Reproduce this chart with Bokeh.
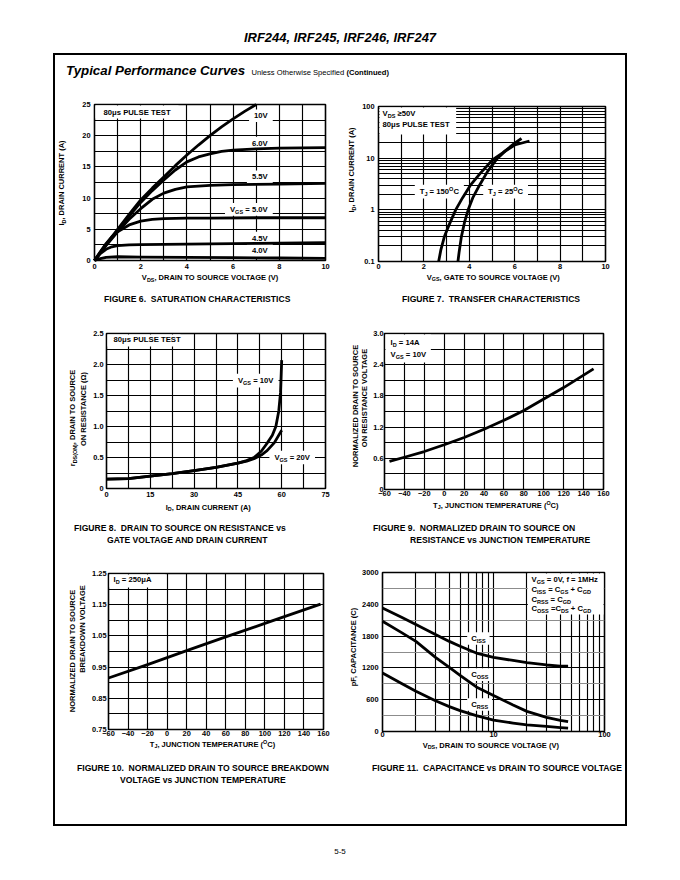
import math
from bokeh.plotting import figure
from bokeh.models import Div, Spacer, Label, BoxAnnotation, FixedTicker
from bokeh.layouts import column, row
from bokeh.embed import file_html
from bokeh.resources import INLINE

FONT = "Liberation Sans"

# ====================== DATA ======================
# Figure 6 - saturation characteristics (VDS [V] -> ID [A]) per VGS
f6_vds_10v = [0, 0.5, 1, 1.5, 2, 2.5, 3, 3.5, 4, 4.5, 5, 5.5, 6, 6.5, 7]
f6_id_10v = [0, 2.6, 5.0, 7.4, 9.7, 11.6, 13.4, 15.2, 16.9, 18.5, 20.0, 21.4, 22.7, 23.9, 25.0]
f6_vds_60v = [0, 0.5, 1, 1.5, 2, 2.5, 3, 3.5, 4, 4.5, 5, 5.5, 6, 7, 8, 9, 10]
f6_id_60v = [0, 2.5, 4.8, 7.1, 9.3, 11.2, 12.9, 14.5, 15.8, 16.6, 17.1, 17.5, 17.7, 17.9, 18.0, 18.05, 18.1]
f6_vds_55v = [0, 0.5, 1, 1.5, 2, 2.5, 3, 3.5, 4, 5, 6, 8, 10]
f6_id_55v = [0, 2.4, 4.6, 6.6, 8.3, 9.8, 10.8, 11.4, 11.8, 12.05, 12.15, 12.25, 12.35]
f6_vds_50v = [0, 0.25, 0.5, 0.75, 1, 1.5, 2, 2.5, 3, 4, 5, 7, 10]
f6_id_50v = [0, 1.4, 2.7, 3.8, 4.6, 5.7, 6.3, 6.6, 6.7, 6.8, 6.8, 6.85, 6.85]
f6_vds_45v = [0, 0.25, 0.5, 0.75, 1, 1.5, 2, 3, 5, 7, 10]
f6_id_45v = [0, 1.1, 1.8, 2.2, 2.4, 2.5, 2.55, 2.6, 2.65, 2.75, 2.85]
f6_vds_40v = [0, 0.25, 0.5, 1, 2, 4, 6, 8, 10]
f6_id_40v = [0, 0.3, 0.5, 0.6, 0.55, 0.5, 0.45, 0.4, 0.35]
f6_curve_labels = ["10V", "6.0V", "5.5V", "V_{GS} = 5.0V", "4.5V", "4.0V"]
f6_xticks = [0, 2, 4, 6, 8, 10]
f6_yticks = [0, 5, 10, 15, 20, 25]
f6_xgrid = [0, 1, 2, 3, 4, 5, 6, 7, 8, 9, 10]
f6_ygrid = [0, 2.5, 5, 7.5, 10, 12.5, 15, 17.5, 20, 22.5, 25]

# Figure 7 - transfer characteristics (VGS [V] -> ID [A], log)
f7_vgs_150 = [2.65, 2.75, 2.9, 3.1, 3.4, 3.7, 4.05, 4.5, 5.05, 5.5, 6.0, 6.65]
f7_id_150 = [0.1, 0.17, 0.3, 0.5, 1.0, 1.7, 3.0, 5.2, 9.5, 13.0, 18.0, 21.5]
f7_vgs_25 = [3.5, 3.55, 3.65, 3.8, 3.95, 4.15, 4.45, 4.8, 5.2, 5.6, 6.0, 6.3]
f7_id_25 = [0.1, 0.15, 0.3, 0.6, 1.0, 1.7, 3.0, 5.5, 9.5, 14.0, 19.5, 24.0]
f7_xticks = [0, 2, 4, 6, 8, 10]
f7_yticks = [0.1, 1, 10, 100]
f7_ytick_labels = ["0.1", "1", "10", "100"]
f7_xgrid = [0, 1, 2, 3, 4, 5, 6, 7, 8, 9, 10]
f7_ygrid = [0.1, 0.2, 0.3, 0.4, 0.5, 0.6, 0.7, 0.8, 0.9, 1, 2, 3, 4, 5, 6, 7, 8, 9,
            10, 20, 30, 40, 50, 60, 70, 80, 90, 100]

# Figure 8 - on resistance vs drain current (ID [A] -> rDS(ON) [ohm])
f8_id_10v = [0, 7.5, 15, 22.5, 30, 37.5, 45, 48, 50.5, 53, 55, 56.8, 58, 59, 59.6, 60]
f8_r_10v = [0.15, 0.16, 0.2, 0.24, 0.29, 0.34, 0.41, 0.45, 0.5, 0.6, 0.73, 0.86, 1.0, 1.25, 1.55, 2.07]
f8_id_20v = [0, 7.5, 15, 22.5, 30, 37.5, 45, 48, 50.5, 53, 55, 57.5, 60]
f8_r_20v = [0.15, 0.16, 0.2, 0.24, 0.29, 0.34, 0.41, 0.44, 0.48, 0.54, 0.61, 0.74, 0.94]
f8_xticks = [0, 15, 30, 45, 60, 75]
f8_yticks = [0, 0.5, 1.0, 1.5, 2.0, 2.5]
f8_ytick_labels = ["0", "0.5", "1.0", "1.5", "2.0", "2.5"]
f8_xgrid = [0, 7.5, 15, 22.5, 30, 37.5, 45, 52.5, 60, 67.5, 75]
f8_ygrid = [0, 0.25, 0.5, 0.75, 1.0, 1.25, 1.5, 1.75, 2.0, 2.25, 2.5]

# Figure 9 - normalized on resistance vs junction temperature
f9_tj = [-55, -40, -20, 0, 20, 40, 60, 80, 100, 120, 140, 150]
f9_rn = [0.54, 0.62, 0.73, 0.86, 1.0, 1.16, 1.33, 1.52, 1.74, 1.96, 2.2, 2.32]
f9_xticks = [-60, -40, -20, 0, 20, 40, 60, 80, 100, 120, 140, 160]
f9_yticks = [0, 0.6, 1.2, 1.8, 2.4, 3.0]
f9_ytick_labels = ["0", "0.6", "1.2", "1.8", "2.4", "3.0"]
f9_ygrid = [0, 0.3, 0.6, 0.9, 1.2, 1.5, 1.8, 2.1, 2.4, 2.7, 3.0]

# Figure 10 - normalized breakdown voltage vs junction temperature
f10_tj = [-60, -20, 20, 60, 100, 157]
f10_bv = [0.915, 0.958, 1.003, 1.047, 1.09, 1.152]
f10_xticks = [-60, -40, -20, 0, 20, 40, 60, 80, 100, 120, 140, 160]
f10_yticks = [0.75, 0.85, 0.95, 1.05, 1.15, 1.25]
f10_ytick_labels = ["0.75", "0.85", "0.95", "1.05", "1.15", "1.25"]
f10_ygrid = [0.75, 0.8, 0.85, 0.9, 0.95, 1.0, 1.05, 1.1, 1.15, 1.2, 1.25]

# Figure 11 - capacitance vs VDS (log x)
f11_vds = [1, 1.5, 2, 3, 4, 5, 7, 10, 15, 20, 30, 40, 47]
f11_ciss = [2330, 2150, 2020, 1830, 1700, 1610, 1480, 1400, 1340, 1300, 1255, 1235, 1235]
f11_coss = [2080, 1860, 1700, 1400, 1210, 1060, 840, 680, 500, 380, 265, 210, 185]
f11_crss = [1105, 900, 760, 580, 470, 395, 300, 215, 160, 125, 95, 72, 62]
f11_xticks = [1, 10, 100]
f11_xtick_labels = ["0", "10", "100"]
f11_yticks = [0, 600, 1200, 1800, 2400, 3000]
f11_xgrid = [1, 2, 3, 4, 5, 6, 7, 8, 9, 10, 20, 30, 40, 50, 60, 70, 80, 90, 100]
f11_ygrid_minor = [300, 900, 1500, 2100, 2700]
f11_legend = ["V_{GS} = 0V, f = 1MHz", "C_{ISS} = C_{GS} + C_{GD}",
              "C_{RSS} = C_{GD}", "C_{OSS} =C_{DS} + C_{GD}"]

# ====================== TEXT HELPERS ======================
AW = {' ': 278, '(': 333, ')': 333, '+': 584, ',': 278, '-': 333, '.': 278, '=': 584,
      '\u2265': 549, '\u03bc': 611, '\u00b0': 400, '\u03a9': 768}
for _d in "0123456789":
    AW[_d] = 556
AW.update(dict(A=722, B=722, C=722, D=722, E=667, F=611, G=778, H=722, I=278, J=556, K=722,
               L=611, M=833, N=722, O=778, P=667, Q=778, R=722, S=667, T=611, U=722, V=667,
               W=944, X=667, Y=667, Z=611))
AW.update(dict(a=556, b=611, c=556, d=611, e=556, f=333, g=611, h=611, i=278, j=278, k=556,
               l=278, m=889, n=611, o=611, p=611, q=611, r=389, s=556, t=333, u=611, v=556,
               w=778, x=556, y=556, z=500))
SUBK = 0.72


def text_w(s, size):
    return sum(AW.get(c, 600) for c in s) * size / 1000.0


def parse(s):
    segs, buf, i = [], "", 0
    while i < len(s):
        if s[i] in "_^" and i + 1 < len(s) and s[i + 1] == "{":
            if buf:
                segs.append((buf, ""))
                buf = ""
            j = s.index("}", i)
            segs.append((s[i + 2:j], "sub" if s[i] == "_" else "sup"))
            i = j + 1
        else:
            buf += s[i]
            i += 1
    if buf:
        segs.append((buf, ""))
    return segs


def to_html(s):
    out = ""
    for t, k in parse(s):
        if k == "sub":
            out += '<span style="font-size:72%%;position:relative;top:0.28em">%s</span>' % t
        elif k == "sup":
            out += '<span style="font-size:72%%;position:relative;top:-0.45em">%s</span>' % t
        else:
            out += t
    return out


def shift(v, dpx, info):
    lo, hi, npx, log = info
    if log:
        return v * 10 ** (dpx * (math.log10(hi) - math.log10(lo)) / npx)
    return v + dpx * (hi - lo) / npx


def rich(p, info, x, y, s, dx=0.0, dy=0.0, size=7.7, align="left", bg=None):
    """Horizontal text centred vertically on (x, y) + pixel offsets (dx right, dy down)."""
    xi, yi = info
    segs = parse(s)
    ws = [text_w(t, size * (SUBK if k else 1.0)) for t, k in segs]
    total = sum(ws)
    start = dx + {"left": 0.0, "right": -total, "center": -total / 2.0}[align]
    if bg is not None:
        px, py = bg
        p.add_layout(BoxAnnotation(
            left=shift(x, start - px, xi), right=shift(x, start + total + px, xi),
            bottom=shift(y, -dy - (0.5 * size + py), yi), top=shift(y, -dy + 0.5 * size + py, yi),
            fill_color="white", fill_alpha=1.0, line_color=None, level="glyph"))
    off = start
    for (t, k), w in zip(segs, ws):
        fs = size * (SUBK if k else 1.0)
        lead = len(t) - len(t.lstrip(" "))
        txt = t.strip(" ")
        yo = -dy
        if k == "sub":
            yo -= 0.3 * size
        elif k == "sup":
            yo += 0.38 * size
        if txt:
            p.add_layout(Label(x=x, y=y, x_offset=off + text_w(" " * lead, fs), y_offset=yo,
                               text=txt, text_font=FONT, text_font_size="%.2fpx" % fs,
                               text_font_style="bold", text_color="black", text_align="left",
                               text_baseline="middle", level="overlay"))
        off += w


def corner_box(p, info, w, h, side="left"):
    xi, yi = info
    if side == "left":
        l, r = shift(xi[0], 1, xi), shift(xi[0], w, xi)
    else:
        l, r = shift(xi[1], -w, xi), shift(xi[1], -1, xi)
    p.add_layout(BoxAnnotation(left=l, right=r, top=shift(yi[1], -1, yi), bottom=shift(yi[1], -h, yi),
                               fill_color="white", fill_alpha=1.0, line_color=None, level="glyph"))


def make_fig(xr, yr, W, H, left, top, fw, fh, xlog=False, ylog=False):
    p = figure(width=W, height=H, x_range=xr, y_range=yr,
               x_axis_type="log" if xlog else "linear",
               y_axis_type="log" if ylog else "linear",
               min_border_left=left, min_border_right=W - left - fw,
               min_border_top=top, min_border_bottom=H - top - fh,
               title=None, toolbar_location=None, tools="", output_backend="svg", margin=0)
    p.background_fill_color = "white"
    p.border_fill_color = "white"
    p.outline_line_color = "black"
    p.outline_line_width = 1.6
    p.outline_line_alpha = 1.0
    for ax in (p.xaxis[0], p.yaxis[0]):
        ax.axis_line_color = None
        ax.major_tick_line_color = None
        ax.minor_tick_line_color = None
        ax.major_tick_out = 0
        ax.major_tick_in = 0
        ax.minor_tick_out = 0
        ax.minor_tick_in = 0
        ax.major_label_text_font = FONT
        ax.major_label_text_font_style = "bold"
        ax.major_label_text_font_size = "7.4px"
        ax.major_label_text_color = "black"
    for g in (p.xgrid[0], p.ygrid[0]):
        g.grid_line_color = "black"
        g.grid_line_width = 1.15
        g.grid_line_alpha = 1.0
    info = ((xr[0], xr[1], fw, xlog), (yr[0], yr[1], fh, ylog))
    return p, info


def curve(p, x, y):
    p.line(x, y, line_color="black", line_width=2.8, line_join="round", line_cap="butt",
           level="annotation")


def set_axes(p, xticks, yticks, xgrid, ygrid, xs, ys, xover=None, yover=None):
    p.xaxis[0].ticker = FixedTicker(ticks=xticks)
    p.yaxis[0].ticker = FixedTicker(ticks=yticks)
    p.xgrid[0].ticker = FixedTicker(ticks=xgrid)
    p.ygrid[0].ticker = FixedTicker(ticks=ygrid)
    p.xaxis[0].major_label_standoff = xs
    p.yaxis[0].major_label_standoff = ys
    if xover:
        p.xaxis[0].major_label_overrides = xover
    if yover:
        p.yaxis[0].major_label_overrides = yover


BASE = "font-family:'Liberation Sans';font-weight:bold;color:black;white-space:nowrap;"


def ylab_div(w, h, items):
    html = '<div style="position:relative;width:%dpx;height:%dpx;%s">' % (w, h, BASE)
    for X, Y, txt in items:
        html += ('<div style="position:absolute;left:%gpx;top:%gpx;font-size:7.5px;line-height:9px;'
                 'transform:translate(-50%%,-50%%) rotate(-90deg)">%s</div>' % (X, Y, to_html(txt)))
    html += '</div>'
    return Div(text=html, width=w, height=h, margin=0)


def bottom_div(h, xlab, caps, w=285):
    X, Y, txt = xlab
    html = '<div style="position:relative;width:%dpx;height:%dpx;%s">' % (w, h, BASE)
    html += ('<div style="position:absolute;left:%gpx;top:%gpx;font-size:7.5px;line-height:9px;'
             'transform:translate(-50%%,-50%%)">%s</div>' % (X, Y, to_html(txt)))
    for left, top, t in caps:
        html += ('<div style="position:absolute;left:%gpx;top:%gpx;font-size:8.6px;line-height:10px">'
                 '%s</div>' % (left, top, t))
    html += '</div>'
    return Div(text=html, width=w, height=h, margin=0)


# ====================== FIGURE 6 ======================
f6, i6 = make_fig((0, 10), (0, 25), 265, 188, 19, 19, 231, 156)
set_axes(f6, f6_xticks, f6_yticks, f6_xgrid, f6_ygrid, 3, 4)
for xs_, ys_ in [(f6_vds_10v, f6_id_10v), (f6_vds_60v, f6_id_60v), (f6_vds_55v, f6_id_55v),
                 (f6_vds_50v, f6_id_50v), (f6_vds_45v, f6_id_45v), (f6_vds_40v, f6_id_40v)]:
    curve(f6, xs_, ys_)
for lab, yy in zip(f6_curve_labels, [23.2, 18.8, 13.4, 8.2, 3.6, 1.55]):
    rich(f6, i6, 7.5, yy, lab, align="right", bg=(5, 2.5))
corner_box(f6, i6, 84, 14)
rich(f6, i6, 0, 25, "80\u03bcs PULSE TEST", dx=9, dy=8)
cell6 = column(row(ylab_div(20, 188, [(7, 97.5, "I_{D}, DRAIN CURRENT (A)")]), f6, margin=0),
               bottom_div(39, (155, 5.3, "V_{DS}, DRAIN TO SOURCE VOLTAGE (V)"),
                          [(49, 21, "FIGURE 6.&nbsp; SATURATION CHARACTERISTICS")]), margin=0)

# ====================== FIGURE 7 ======================
f7, i7 = make_fig((0, 10), (0.1, 100), 266, 188, 18, 21, 228, 155, ylog=True)
set_axes(f7, f7_xticks, f7_yticks, f7_xgrid, f7_ygrid, 2, 4,
         yover=dict(zip(f7_yticks, f7_ytick_labels)))
curve(f7, f7_vgs_150, f7_id_150)
curve(f7, f7_vgs_25, f7_id_25)
corner_box(f7, i7, 78, 28)
rich(f7, i7, 0, 100, "V_{DS} \u226550V", dx=4, dy=7)
rich(f7, i7, 0, 100, "80\u03bcs PULSE TEST", dx=4, dy=18)
rich(f7, i7, 2.68, 2.26, "T_{J} = 150^{O}C", align="center", bg=(5, 3))
rich(f7, i7, 5.6, 2.26, "T_{J} = 25^{O}C", align="center", bg=(5, 3))
cell7 = column(row(ylab_div(19, 188, [(12, 84.7, "I_{D}, DRAIN CURRENT (A)")]), f7, margin=0),
               bottom_div(39, (153.3, 4.7, "V_{GS}, GATE TO SOURCE VOLTAGE (V)"),
                          [(62, 21, "FIGURE 7.&nbsp; TRANSFER CHARACTERISTICS")]), margin=0)

# ====================== FIGURE 8 ======================
f8, i8 = make_fig((0, 75), (0, 2.5), 250, 189, 16, 21, 219, 155)
set_axes(f8, f8_xticks, f8_yticks, f8_xgrid, f8_ygrid, 3, 3,
         yover=dict(zip(f8_yticks, f8_ytick_labels)))
curve(f8, f8_id_10v, f8_r_10v)
curve(f8, f8_id_20v, f8_r_20v)
corner_box(f8, i8, 74, 13)
rich(f8, i8, 0, 2.5, "80\u03bcs PULSE TEST", dx=7, dy=6)
rich(f8, i8, 57.2, 1.74, "V_{GS} = 10V", align="right", bg=(5, 3))
rich(f8, i8, 57.5, 0.5, "V_{GS} = 20V", align="left", bg=(5, 3))
cell8 = column(row(ylab_div(35, 189, [(18.3, 105.5, "r_{DS(ON)}, DRAIN TO SOURCE"),
                                      (28.3, 96.5, "ON RESISTANCE (\u03a9)")]), f8, margin=0),
               bottom_div(51, (153.3, 6.7, "I_{D}, DRAIN CURRENT (A)"),
                          [(19, 22, "FIGURE 8.&nbsp; DRAIN TO SOURCE ON RESISTANCE vs"),
                           (52, 34, "GATE VOLTAGE AND DRAIN CURRENT")]), margin=0)

# ====================== FIGURE 9 ======================
f9, i9 = make_fig((-60, 160), (0, 3.0), 255, 189, 11, 21, 222, 156)
set_axes(f9, f9_xticks, f9_yticks, f9_xticks, f9_ygrid, 1, 1,
         yover=dict(zip(f9_yticks, f9_ytick_labels)))
curve(f9, f9_tj, f9_rn)
corner_box(f9, i9, 47, 29)
rich(f9, i9, -60, 3.0, "I_{D} = 14A", dx=6, dy=9)
rich(f9, i9, -60, 3.0, "V_{GS} = 10V", dx=6, dy=21)
cell9 = column(row(ylab_div(30, 189, [(15.4, 93.8, "NORMALIZED DRAIN TO SOURCE"),
                                      (24.4, 86.3, "ON RESISTANCE VOLTAGE")]), f9, margin=0),
               bottom_div(51, (155.8, 4.7, "T_{J}, JUNCTION TEMPERATURE (^{O}C)"),
                          [(33, 22, "FIGURE 9.&nbsp; NORMALIZED DRAIN TO SOURCE ON"),
                           (70, 34, "RESISTANCE vs JUNCTION TEMPERATURE")]), margin=0)

# ====================== FIGURE 10 ======================
f10, i10 = make_fig((-60, 160), (0.75, 1.25), 251, 189, 19, 21, 215, 156)
set_axes(f10, f10_xticks, f10_yticks, f10_xticks, f10_ygrid, 1, 2,
         yover=dict(zip(f10_yticks, f10_ytick_labels)))
curve(f10, f10_tj, f10_bv)
corner_box(f10, i10, 57, 14)
rich(f10, i10, -60, 1.25, "I_{D} = 250\u03bcA", dx=5, dy=6)
cell10 = column(row(ylab_div(34, 189, [(17.3, 98.8, "NORMALIZED DRAIN TO SOURCE"),
                                       (26.7, 77, "BREAKDOWN VOLTAGE")]), f10, margin=0),
                bottom_div(51, (157.5, 3.6, "T_{J}, JUNCTION TEMPERATURE (^{O}C)"),
                           [(22, 22, "FIGURE 10.&nbsp; NORMALIZED DRAIN TO SOURCE BREAKDOWN"),
                            (65, 34, "VOLTAGE vs JUNCTION TEMPERATURE")]), margin=0)

# ====================== FIGURE 11 ======================
f11, i11 = make_fig((1, 100), (0, 3000), 266, 189, 22, 20, 223, 159, xlog=True)
set_axes(f11, f11_xticks, f11_yticks, f11_xgrid, f11_yticks, 0, 4,
         xover=dict(zip(f11_xticks, f11_xtick_labels)))
f11.ygrid[0].ticker = FixedTicker(ticks=f11_yticks, minor_ticks=f11_ygrid_minor)
f11.ygrid[0].minor_grid_line_color = "#8c8c8c"
f11.ygrid[0].minor_grid_line_width = 1.15
curve(f11, f11_vds, f11_ciss)
curve(f11, f11_vds, f11_coss)
curve(f11, f11_vds, f11_crss)
corner_box(f11, i11, 77, 42, side="right")
for k, lab in enumerate(f11_legend):
    rich(f11, i11, 100, 3000, lab, dx=-73, dy=[7, 17, 27, 36][k])
for lab, yy in zip(["C_{ISS}", "C_{OSS}", "C_{RSS}"], [1755, 1075, 509]):
    rich(f11, i11, 6.29, yy, lab, align="left", bg=(4, 2.5))
cell11 = column(row(ylab_div(19, 189, [(13.3, 95, "pF, CAPACITANCE (C)")]), f11, margin=0),
                bottom_div(51, (150.8, 4.7, "V_{DS}, DRAIN TO SOURCE VOLTAGE (V)"),
                           [(32, 22, "FIGURE 11.&nbsp; CAPACITANCE vs DRAIN TO SOURCE VOLTAGE")]),
                margin=0)

# ====================== PAGE LAYOUT ======================
def hline(w):
    return Div(text="", width=w, height=2, margin=0, styles={"background-color": "black"})


def vline(h):
    return Div(text="", width=2, height=h, margin=0, styles={"background-color": "black"})


title = Div(text='<div style="text-align:center;padding-top:22px;font-family:\'Liberation Sans\';'
                 'font-weight:bold;font-style:italic;font-size:13px;line-height:16px;color:black;'
                 'width:664px">IRF244, IRF245, IRF246, IRF247</div>', width=664, height=45, margin=0)
heading = Div(text='<div style="padding:8px 0 0 11px;white-space:nowrap;font-family:\'Liberation Sans\';'
                   'color:black;line-height:16px"><span style="font-weight:bold;font-style:italic;'
                   'font-size:13.3px">Typical Performance Curves</span><span style="font-size:7.6px">'
                   '&nbsp;&nbsp; Unless Otherwise Specified </span><span style="font-size:7.6px;'
                   'font-weight:bold">(Continued)</span></div>', width=570, height=30, margin=0)
footer = Div(text='<div style="text-align:center;padding-top:21px;font-family:\'Liberation Sans\';'
                  'font-size:8px;line-height:10px;color:black;width:664px">5-5</div>',
             width=664, height=46, margin=0)

inner = column(hline(570), heading,
               row(cell6, cell7, margin=0),
               row(cell8, cell9, margin=0),
               row(cell10, cell11, margin=0),
               Spacer(width=570, height=32, margin=0), hline(570), margin=0)
mid = row(Spacer(width=45, height=773, margin=0), vline(773), inner, vline(773), margin=0)
body = column(Spacer(width=664, height=8, margin=0), title, mid, footer, margin=0)
page = row(Spacer(width=8, height=872, margin=0), body, margin=0)

open("out.html", "w").write(file_html(page, INLINE, title="IRF244 Typical Performance Curves"))
